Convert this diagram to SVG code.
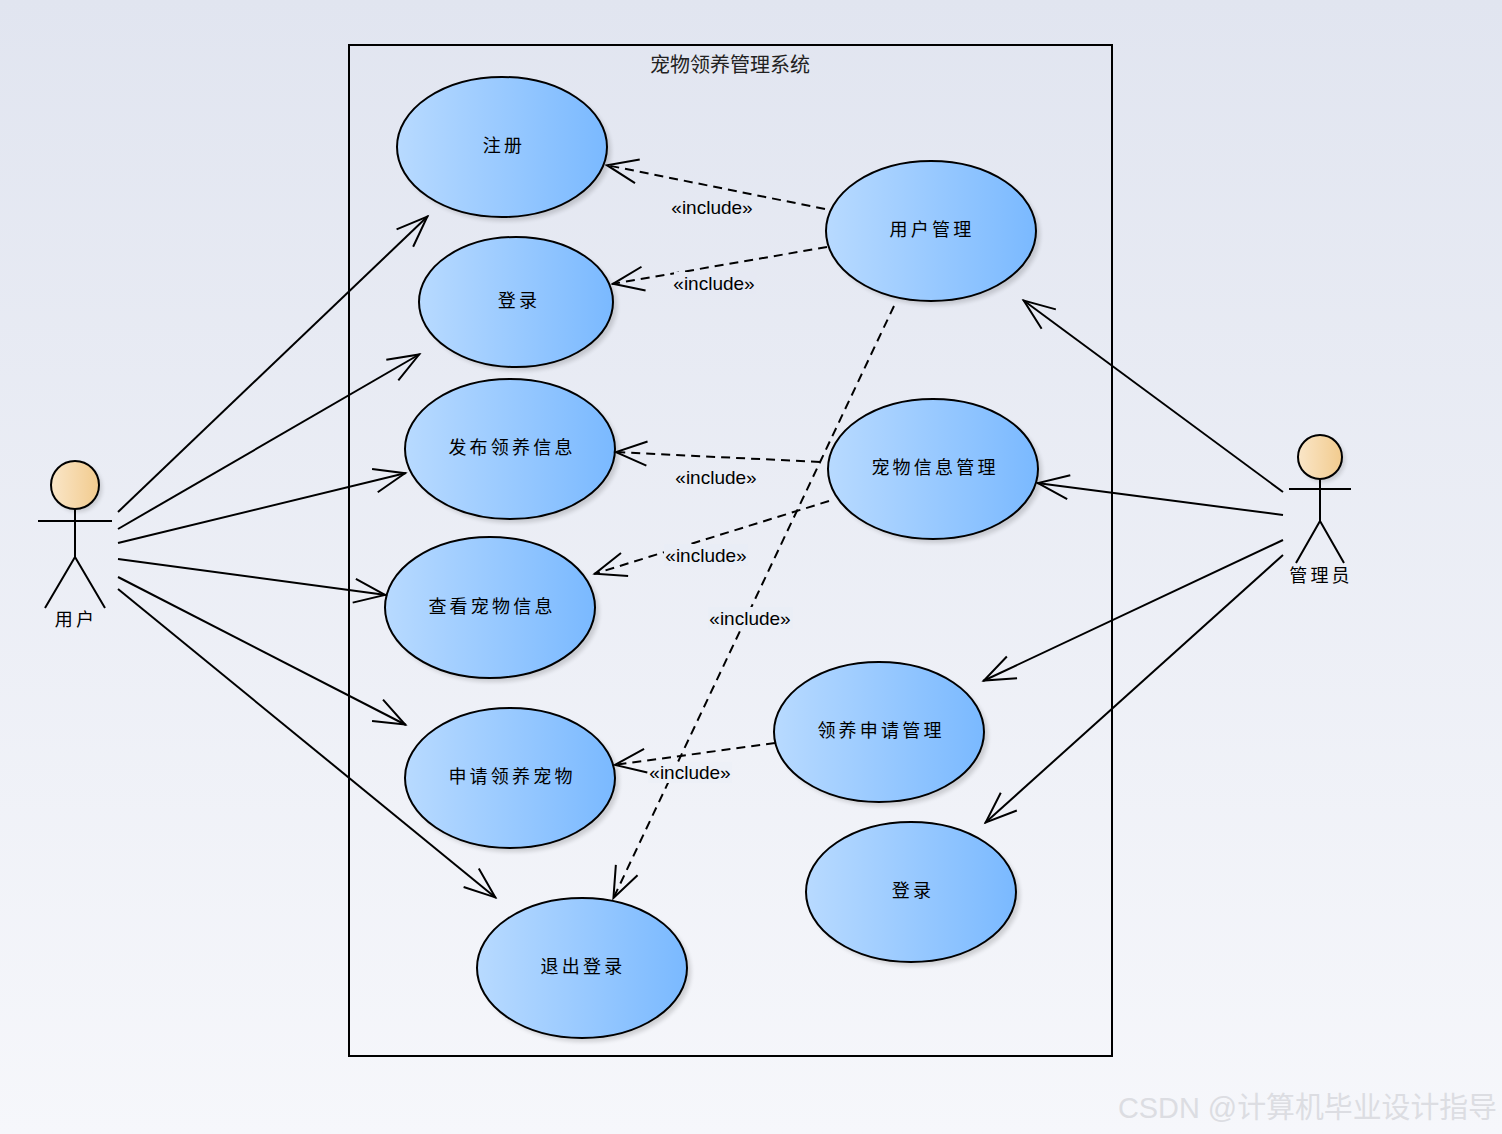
<svg xmlns="http://www.w3.org/2000/svg" width="1502" height="1134" viewBox="0 0 1502 1134">
<defs>
<linearGradient id="bg" x1="0" y1="0" x2="0" y2="1"><stop offset="0" stop-color="#e1e5f0"/><stop offset="1" stop-color="#f6f7fb"/></linearGradient>
<linearGradient id="uc" x1="0" y1="0" x2="1" y2="0"><stop offset="0" stop-color="#b8daff"/><stop offset="1" stop-color="#7ab9ff"/></linearGradient>
<linearGradient id="head" x1="0" y1="0" x2="1" y2="0"><stop offset="0" stop-color="#fae6c8"/><stop offset="1" stop-color="#f2cb8e"/></linearGradient>
<filter id="blur" x="-10%" y="-10%" width="120%" height="120%"><feGaussianBlur stdDeviation="2"/></filter>
<marker id="open" markerUnits="userSpaceOnUse" markerWidth="40" markerHeight="32" refX="36" refY="16" orient="auto"><path d="M4 4 L35 16 L4 28" fill="none" stroke="#000" stroke-width="2"/></marker>
</defs>
<style>
.uc{fill:url(#uc);stroke:#000;stroke-width:2}
.sh{fill:#000;opacity:.15;filter:url(#blur)}
.hd{fill:url(#head);stroke:#000;stroke-width:2}
.st{fill:none;stroke:#000;stroke-width:2}
.a{fill:none;stroke:#000;stroke-width:2;marker-end:url(#open)}
.d{stroke-dasharray:9 6}
.t{font-family:"Noto Sans CJK SC","Liberation Sans",sans-serif;font-size:18px;letter-spacing:3.2px;text-anchor:middle;fill:#000}
.i{font-family:"Liberation Sans",Arial,sans-serif;font-size:19px;text-anchor:middle;fill:#000}
</style>
<rect width="1502" height="1134" fill="url(#bg)"/>
<g id="system"><rect x="349" y="45" width="763" height="1011" fill="none" stroke="#000" stroke-width="2"/>
<text x="730" y="72" font-family="'Noto Sans CJK SC',sans-serif" font-size="20" text-anchor="middle" fill="#222">宠物领养管理系统</text></g>
<g id="uc1"><ellipse class="sh" cx="506" cy="151" rx="105" ry="70"/><ellipse class="uc" cx="502" cy="147" rx="105" ry="70"/><text class="t" x="504" y="152">注册</text></g>
<g id="uc2"><ellipse class="sh" cx="520" cy="306" rx="97" ry="65"/><ellipse class="uc" cx="516" cy="302" rx="97" ry="65"/><text class="t" x="519" y="307">登录</text></g>
<g id="uc3"><ellipse class="sh" cx="514" cy="453" rx="105" ry="70"/><ellipse class="uc" cx="510" cy="449" rx="105" ry="70"/><text class="t" x="512" y="454">发布领养信息</text></g>
<g id="uc4"><ellipse class="sh" cx="494" cy="612" rx="105" ry="70"/><ellipse class="uc" cx="490" cy="607.5" rx="105" ry="70.5"/><text class="t" x="492" y="613">查看宠物信息</text></g>
<g id="uc5"><ellipse class="sh" cx="514" cy="782" rx="105" ry="70"/><ellipse class="uc" cx="510" cy="778" rx="105" ry="70"/><text class="t" x="512" y="783">申请领养宠物</text></g>
<g id="uc6"><ellipse class="sh" cx="586" cy="972" rx="105" ry="70"/><ellipse class="uc" cx="582" cy="968" rx="105" ry="70"/><text class="t" x="583" y="973">退出登录</text></g>
<g id="uc7"><ellipse class="sh" cx="935" cy="235" rx="105" ry="70"/><ellipse class="uc" cx="931" cy="231" rx="105" ry="70"/><text class="t" x="932" y="236">用户管理</text></g>
<g id="uc8"><ellipse class="sh" cx="937" cy="473" rx="105" ry="70"/><ellipse class="uc" cx="933" cy="469" rx="105" ry="70"/><text class="t" x="935" y="474">宠物信息管理</text></g>
<g id="uc9"><ellipse class="sh" cx="883" cy="736" rx="105" ry="70"/><ellipse class="uc" cx="879" cy="732" rx="105" ry="70"/><text class="t" x="881" y="737">领养申请管理</text></g>
<g id="uc10"><ellipse class="sh" cx="915" cy="896" rx="105" ry="70"/><ellipse class="uc" cx="911" cy="892" rx="105" ry="70"/><text class="t" x="913" y="897">登录</text></g>
<g id="actor-user"><circle cx="78" cy="488" r="24" fill="#000" opacity=".15" filter="url(#blur)"/><circle class="hd" cx="75" cy="485" r="24"/><path class="st" d="M38 521H112M75 509V557M75 557L45 608M75 557L105 608"/><text class="t" x="76" y="626">用户</text></g>
<g id="actor-admin"><circle cx="1323" cy="460" r="22" fill="#000" opacity=".15" filter="url(#blur)"/><circle class="hd" cx="1320" cy="457" r="22"/><path class="st" d="M1289 489H1351M1320 479V521M1320 521L1296 563M1320 521L1344 563"/><text class="t" x="1321" y="582">管理员</text></g>
<g id="connectors">
<path class="a" d="M118 512L428 216"/>
<path class="a" d="M118 529L420 354"/>
<path class="a" d="M118 543L406 473"/>
<path class="a" d="M118 559L386 595"/>
<path class="a" d="M118 577L406 725"/>
<path class="a" d="M118 589L496 898"/>
<path class="a" d="M1283 492L1023 300"/>
<path class="a" d="M1283 515L1037 483"/>
<path class="a" d="M1283 540L983 681"/>
<path class="a" d="M1283 555L985 823"/>
<path class="a d" d="M825 209L606 165"/>
<path class="a d" d="M827 247L612 284"/>
<path class="a d" d="M820 462L615 452"/>
<path class="a d" d="M829 501L594 574"/>
<path class="a d" d="M775 743L614 765"/>
<path class="a d" d="M894 306L613 899"/>
</g>
<g id="labels">
<rect x="674" y="272" width="82" height="22" fill="#e6e9f3"/>
<rect x="664" y="544" width="84" height="22" fill="#e9edf6"/>
<rect x="708" y="607" width="85" height="22" fill="#eaeef6"/>
<rect x="648" y="762" width="84" height="21" fill="#edf0f7"/>
<text class="i" x="712" y="214">«include»</text>
<text class="i" x="714" y="290">«include»</text>
<text class="i" x="716" y="484">«include»</text>
<text class="i" x="706" y="562">«include»</text>
<text class="i" x="750" y="625">«include»</text>
<text class="i" x="690" y="779">«include»</text>
</g>
<text id="watermark" x="1118" y="1118" font-family="'Liberation Sans','Noto Sans CJK SC',sans-serif" font-size="29" textLength="379" lengthAdjust="spacingAndGlyphs" fill="#dcdde2">CSDN @计算机毕业设计指导</text>
</svg>
